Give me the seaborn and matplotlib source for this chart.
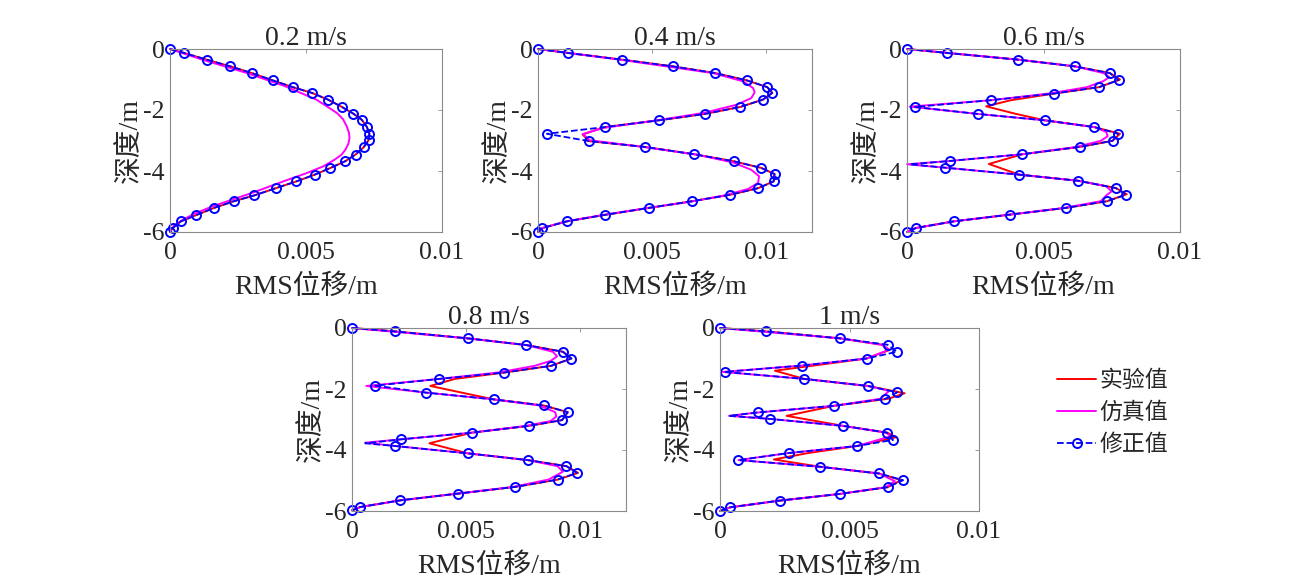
"""RMS 位移沿深度分布：实验值 / 仿真值 / 修正值，五种流速。"""

import matplotlib

matplotlib.use("Agg")

import matplotlib.pyplot as plt
import pandas as pd
import seaborn as sns
from matplotlib.lines import Line2D
from matplotlib.ticker import FuncFormatter

# ---------------- 数据 ----------------
titles = ["0.2 m/s", "0.4 m/s", "0.6 m/s", "0.8 m/s", "1 m/s"]
x_max = [0.01, 0.012, 0.01, 0.012, 0.01]
legend_labels = ["实验值", "仿真值", "修正值"]

# 0.2 m/s
depth_02_fix = [0, -0.13, -0.35, -0.57, -0.79, -1.03, -1.25, -1.44, -1.66, -1.90,
                -2.12, -2.32, -2.56, -2.78, -2.99, -3.22, -3.46, -3.68, -3.90, -4.12,
                -4.34, -4.56, -4.80, -4.99, -5.21, -5.45, -5.65, -5.87, -6.0]
rms_02_fix = [0, 0.00052, 0.00135, 0.00222, 0.00301, 0.00378, 0.00451, 0.00522, 0.00581, 0.00632,
              0.00674, 0.00705, 0.00724, 0.00733, 0.0073, 0.00712, 0.00682, 0.00644, 0.0059, 0.00532,
              0.00465, 0.0039, 0.0031, 0.00235, 0.00162, 0.00095, 0.0004, 0.0001, 0]
depth_02_tip = []
rms_02_tip = []
depth_02_exp = [0, -0.13, -0.35, -0.57, -0.79, -1.03, -1.25, -1.44, -1.66, -1.90,
                -2.12, -2.32, -2.56, -2.78, -2.99, -3.22, -3.46, -3.68, -3.90, -4.12,
                -4.34, -4.56, -4.80, -4.99, -5.21, -5.45, -5.65, -5.87, -6.0]
rms_02_exp = [0, 0.00052, 0.00135, 0.00222, 0.00301, 0.00378, 0.00451, 0.00522, 0.00581, 0.00632,
              0.00674, 0.00705, 0.00724, 0.00733, 0.0073, 0.00712, 0.00682, 0.00644, 0.0059, 0.00532,
              0.00465, 0.0039, 0.0031, 0.00235, 0.00162, 0.00095, 0.0004, 0.0001, 0]
depth_02_sim = [0, -0.35, -0.79, -1.22, -1.66, -1.9, -2.10, -2.3, -2.54, -2.75, -2.92, -3.1,
                -3.30, -3.47, -3.63, -3.85, -4.07, -4.28, -4.50, -4.72, -4.94, -5.16, -5.38,
                -5.60, -5.81, -6.0]
rms_02_sim = [0, 0.00119, 0.00283, 0.00423, 0.00538, 0.0058, 0.00614, 0.00636, 0.0065, 0.00658,
              0.0066, 0.00656, 0.00645, 0.0063, 0.00605, 0.00563, 0.00502, 0.00435, 0.00368,
              0.00301, 0.00228, 0.00156, 0.00095, 0.00046, 0.00013, 0]

# 0.4 m/s
depth_04_fix = [0, -0.13, -0.35, -0.57, -0.79, -1.03, -1.25, -1.44, -1.66, -1.90,
                -2.13, -2.34, -2.56, -2.78, -3.02, -3.21, -3.45, -3.68, -3.90, -4.10,
                -4.34, -4.56, -4.78, -4.99, -5.21, -5.44, -5.65, -5.87, -6.0]
rms_04_fix = [0, 0.00131, 0.00369, 0.00591, 0.00777, 0.00915, 0.01004, 0.01026, 0.00985, 0.00886,
              0.0073, 0.00528, 0.00292, 0.00039, 0.00223, 0.00467, 0.00683, 0.00857, 0.00978, 0.01036,
              0.01032, 0.00965, 0.00842, 0.00676, 0.00486, 0.00292, 0.00127, 0.00019, 0]
depth_04_tip = []
rms_04_tip = []
depth_04_exp = [0, -0.13, -0.35, -0.57, -0.79, -1.03, -1.25, -1.44, -1.66, -1.90,
                -2.13, -2.34, -2.56, -2.80, -3.02, -3.21, -3.45, -3.68, -3.90, -4.10,
                -4.34, -4.56, -4.78, -4.99, -5.21, -5.44, -5.65, -5.87, -6.0]
rms_04_exp = [0, 0.00131, 0.00369, 0.00591, 0.00777, 0.00915, 0.01004, 0.01026, 0.00985, 0.00886,
              0.0073, 0.00528, 0.00292, 0.00195, 0.00223, 0.00467, 0.00683, 0.00857, 0.00978, 0.01036,
              0.01032, 0.00965, 0.00842, 0.00676, 0.00486, 0.00292, 0.00127, 0.00019, 0]
depth_04_sim = [0, -0.35, -0.79, -1.06, -1.28, -1.42, -1.61, -1.83, -2.10, -2.34, -2.59, -2.79,
                -2.99, -3.21, -3.46, -3.72, -3.96, -4.17, -4.39, -4.59, -4.81, -5.01, -5.22,
                -5.44, -5.65, -5.87, -6.0]
rms_04_sim = [0, 0.00358, 0.00766, 0.00898, 0.00942, 0.00949, 0.00934, 0.00869, 0.00723, 0.00518,
              0.00285, 0.00197, 0.00226, 0.0046, 0.00693, 0.00854, 0.00934, 0.00968, 0.00964,
              0.0092, 0.0081, 0.00664, 0.00474, 0.00285, 0.00124, 0.00019, 0]

# 0.6 m/s
depth_06_fix = [0, -0.13, -0.35, -0.57, -0.79, -1.02, -1.25, -1.46, -1.68, -1.90,
                -2.13, -2.34, -2.56, -2.78, -3.01, -3.21, -3.45, -3.67, -3.89, -4.12,
                -4.32, -4.56, -4.78, -4.99, -5.21, -5.43, -5.65, -5.87, -6.0]
rms_06_fix = [0, 0.00147, 0.00408, 0.00615, 0.00743, 0.00775, 0.00704, 0.00539, 0.00306, 0.00029,
              0.0026, 0.00506, 0.00686, 0.00774, 0.00753, 0.00633, 0.00423, 0.00159, 0.00138, 0.00411,
              0.00627, 0.00765, 0.00802, 0.00733, 0.00582, 0.00377, 0.00172, 0.00032, 0]
depth_06_tip = [-3.78]
rms_06_tip = [0.0001]
depth_06_exp = [0, -0.13, -0.35, -0.57, -0.79, -1.0, -1.25, -1.46, -1.68, -1.88,
                -2.13, -2.34, -2.56, -2.78, -3.01, -3.21, -3.45, -3.77, -4.12, -4.32,
                -4.56, -4.76, -4.99, -5.21, -5.43, -5.65, -5.87, -6.0]
rms_06_exp = [0, 0.00147, 0.00408, 0.00615, 0.00743, 0.0078, 0.00704, 0.00539, 0.0038, 0.0029,
              0.0040, 0.00506, 0.00686, 0.0078, 0.00753, 0.00633, 0.00423, 0.0030, 0.00411, 0.00627,
              0.00765, 0.00805, 0.00733, 0.00582, 0.00377, 0.00172, 0.00032, 0]
depth_06_sim = [0, -0.35, -0.57, -0.79, -0.92, -1.05, -1.25, -1.46, -1.68, -1.89,
                -2.13, -2.34, -2.56, -2.72, -2.86, -3.01, -3.21, -3.45, -3.67, -3.78,
                -3.89, -4.12, -4.32, -4.5, -4.67, -4.8, -4.99, -5.21, -5.43, -5.65, -5.87, -6.0]
rms_06_sim = [0, 0.00408, 0.00615, 0.0072, 0.00741, 0.0072, 0.0066, 0.0052, 0.00306, 0.0001,
              0.0026, 0.00506, 0.00686, 0.0073, 0.00735, 0.0071, 0.0062, 0.00423, 0.00159, 0,
              0.00138, 0.00411, 0.00627, 0.0073, 0.00749, 0.0073, 0.0071, 0.00575, 0.00377, 0.00172,
              0.00032, 0]

# 0.8 m/s
depth_08_fix = [0, -0.11, -0.34, -0.56, -0.78, -1.0, -1.24, -1.46, -1.67, -1.89,
                -2.12, -2.34, -2.54, -2.76, -3.02, -3.21, -3.43, -3.65, -3.87, -4.11,
                -4.33, -4.53, -4.75, -4.97, -5.21, -5.43, -5.65, -5.87, -5.98]
rms_08_fix = [0, 0.00187, 0.00507, 0.00764, 0.00924, 0.00961, 0.00872, 0.00667, 0.00381, 0.00102,
              0.00326, 0.0062, 0.00839, 0.00945, 0.0092, 0.00774, 0.00526, 0.00216, 0.0019, 0.00507,
              0.00769, 0.00939, 0.00985, 0.00901, 0.00715, 0.00463, 0.00212, 0.00036, 0]
depth_08_tip = [-3.78]
rms_08_tip = [0.00058]
depth_08_exp = [0, -0.11, -0.34, -0.56, -0.78, -1.0, -1.24, -1.46, -1.67, -1.9,
                -2.34, -2.54, -2.76, -3.02, -3.21, -3.43, -3.78, -4.11, -4.33, -4.53,
                -4.75, -4.97, -5.21, -5.43, -5.65, -5.87, -5.98]
rms_08_exp = [0, 0.00187, 0.00507, 0.00764, 0.00924, 0.00961, 0.00872, 0.00667, 0.0045, 0.00343,
              0.0062, 0.00839, 0.00945, 0.0092, 0.00774, 0.00526, 0.00339, 0.00507, 0.00769, 0.00939,
              0.0099, 0.00901, 0.00715, 0.00463, 0.00212, 0.00036, 0]
depth_08_sim = [0, -0.34, -0.56, -0.78, -0.93, -1.08, -1.24, -1.46, -1.67, -1.90,
                -2.12, -2.34, -2.54, -2.76, -2.9, -3.05, -3.21, -3.43, -3.65, -3.76,
                -3.87, -4.11, -4.33, -4.53, -4.71, -4.85, -4.97, -5.21, -5.43, -5.65, -5.87, -5.98]
rms_08_sim = [0, 0.00507, 0.00764, 0.0088, 0.00898, 0.0087, 0.0080, 0.0064, 0.00381, 0.00063,
              0.00326, 0.0062, 0.0082, 0.0089, 0.00895, 0.0087, 0.0076, 0.00526, 0.00216, 0.00058,
              0.0019, 0.00507, 0.00769, 0.0090, 0.00924, 0.0089, 0.0086, 0.00705, 0.00463, 0.00212,
              0.00036, 0]

# 1 m/s
depth_10_fix = [0, -0.11, -0.34, -0.55, -0.78, -1.0, -1.23, -1.44, -1.67, -1.90,
                -2.11, -2.32, -2.55, -2.77, -2.98, -3.21, -3.43, -3.67, -3.87, -4.10,
                -4.33, -4.55, -4.77, -4.99, -5.22, -5.44, -5.66, -5.88, -6.0]
rms_10_fix = [0, 0.00176, 0.00464, 0.00647, 0.00683, 0.00566, 0.00317, 0.00018, 0.00326, 0.00571,
              0.00684, 0.00638, 0.00441, 0.00145, 0.00192, 0.00476, 0.00645, 0.00668, 0.00528, 0.00265,
              0.00071, 0.00386, 0.00614, 0.00707, 0.00647, 0.00463, 0.0023, 0.00039, 0]
depth_10_tip = [-2.88]
rms_10_tip = [0.00035]
depth_10_exp = [0, -0.11, -0.34, -0.55, -0.72, -1.0, -1.40, -1.67, -1.90, -2.14,
                -2.32, -2.55, -2.88, -3.21, -3.43, -3.58, -3.87, -4.10, -4.31, -4.55,
                -4.77, -4.99, -5.22, -5.44, -5.66, -5.88, -6.0]
rms_10_exp = [0, 0.00176, 0.00464, 0.00625, 0.00655, 0.00566, 0.00212, 0.00326, 0.00571, 0.00713,
              0.0065, 0.00441, 0.00257, 0.00476, 0.00645, 0.00681, 0.00528, 0.0034, 0.00208, 0.00386,
              0.00614, 0.0070, 0.00647, 0.00463, 0.0023, 0.00039, 0]
depth_10_sim = [0, -0.34, -0.55, -0.71, -1.0, -1.23, -1.44, -1.67, -1.90, -2.06,
                -2.32, -2.55, -2.77, -2.88, -2.98, -3.21, -3.43, -3.55, -3.87, -4.10,
                -4.33, -4.55, -4.77, -5.02, -5.22, -5.44, -5.66, -5.88, -6.0]
rms_10_sim = [0, 0.00464, 0.00625, 0.00653, 0.00566, 0.00317, 0.0001, 0.00326, 0.00571, 0.00653,
              0.0062, 0.00441, 0.00145, 0.00035, 0.00192, 0.00476, 0.0064, 0.0066, 0.00528, 0.00265,
              0.00071, 0.00386, 0.00614, 0.00675, 0.0064, 0.00463, 0.0023, 0.00039, 0]

panels = [
    (depth_02_exp, rms_02_exp, depth_02_sim, rms_02_sim, depth_02_fix, rms_02_fix, depth_02_tip, rms_02_tip),
    (depth_04_exp, rms_04_exp, depth_04_sim, rms_04_sim, depth_04_fix, rms_04_fix, depth_04_tip, rms_04_tip),
    (depth_06_exp, rms_06_exp, depth_06_sim, rms_06_sim, depth_06_fix, rms_06_fix, depth_06_tip, rms_06_tip),
    (depth_08_exp, rms_08_exp, depth_08_sim, rms_08_sim, depth_08_fix, rms_08_fix, depth_08_tip, rms_08_tip),
    (depth_10_exp, rms_10_exp, depth_10_sim, rms_10_sim, depth_10_fix, rms_10_fix, depth_10_tip, rms_10_tip),
]

# 轴位置（像素：左, 上, 右, 下）
W, H = 1313, 587
boxes_px = [(170, 49, 442, 232), (538, 49, 812, 232), (907, 49, 1180, 232),
            (352, 328, 626, 511), (720, 328, 979, 511)]

RED = "#ff0000"
MAGENTA = "#ff00ff"
BLUE = "#0000ff"
GRAY = "#8a8a8a"
TEXT = "#262626"

sns.set_theme(style="white")
plt.rcParams["font.family"] = ["Liberation Serif", "Noto Sans CJK SC"]
plt.rcParams["axes.unicode_minus"] = False


def _frame(depth, rms):
    return pd.DataFrame({"depth": depth, "rms": rms})


def _fix_frame(depth, rms, tip_depth, tip_rms):
    """修正值：带标记的点 + 仅用于连线的折点，按深度排序。"""
    a = _frame(depth, rms).assign(mark=True)
    b = _frame(tip_depth, tip_rms).assign(mark=False)
    d = pd.concat([a, b], ignore_index=True)
    d = d.sort_values("depth", ascending=False, kind="stable").reset_index(drop=True)
    idx = d.index[d["mark"]].tolist()
    return d, idx


fig = plt.figure(figsize=(W / 100, H / 100), dpi=100)
fmt = FuncFormatter(lambda v, _: f"{v:g}")

for title, xm, box, p in zip(titles, x_max, boxes_px, panels):
    l, t, r, b = box
    ax = fig.add_axes([l / W, 1 - b / H, (r - l) / W, (b - t) / H])
    d_exp, r_exp, d_sim, r_sim, d_fix, r_fix, d_tip, r_tip = p

    sns.lineplot(data=_frame(d_exp, r_exp), x="rms", y="depth", sort=False,
                 estimator=None, color=RED, linewidth=1.4, ax=ax, legend=False,
                 clip_on=False)
    sns.lineplot(data=_frame(d_sim, r_sim), x="rms", y="depth", sort=False,
                 estimator=None, color=MAGENTA, linewidth=1.4, ax=ax, legend=False,
                 clip_on=False)
    fix_df, mark_idx = _fix_frame(d_fix, r_fix, d_tip, r_tip)
    sns.lineplot(data=fix_df, x="rms", y="depth", sort=False, estimator=None,
                 color=BLUE, linewidth=1.3, linestyle="--", marker="o",
                 markevery=mark_idx, markersize=6.5, markerfacecolor="none",
                 markeredgecolor=BLUE, markeredgewidth=1.4, ax=ax, legend=False,
                 clip_on=False)

    ax.set_xlim(0, xm)
    ax.set_ylim(-6, 0)
    ax.set_xticks([0, 0.005, 0.01])
    ax.set_yticks([0, -2, -4, -6])
    ax.xaxis.set_major_formatter(fmt)
    ax.yaxis.set_major_formatter(fmt)
    ax.tick_params(direction="in", length=3, width=0.6, colors=GRAY,
                   labelcolor=TEXT, labelsize=18.5, top=True, right=True)
    ax.tick_params(axis="x", pad=7.5)
    ax.tick_params(axis="y", pad=4)
    for s in ax.spines.values():
        s.set_color(GRAY)
        s.set_linewidth(0.8)
    ax.set_title(title, fontsize=20, color=TEXT, pad=3)
    ax.set_xlabel("RMS位移/m", fontsize=20, color=TEXT, labelpad=7)
    ax.set_ylabel("深度/m", fontsize=20, color=TEXT, labelpad=0)

handles = [
    Line2D([], [], color=RED, linewidth=1.4),
    Line2D([], [], color=MAGENTA, linewidth=1.4),
    Line2D([], [], color=BLUE, linewidth=1.3, linestyle="--", marker="o",
           markersize=6.5, markerfacecolor="none", markeredgecolor=BLUE,
           markeredgewidth=1.4),
]
fig.legend(handles, legend_labels, loc="center left",
           bbox_to_anchor=(1048 / W, 1 - 413 / H), frameon=False, fontsize=16.5,
           handlelength=1.7, handletextpad=0.15, labelspacing=0.45,
           borderaxespad=0, labelcolor=TEXT)

fig.savefig("out.png", dpi=100)
